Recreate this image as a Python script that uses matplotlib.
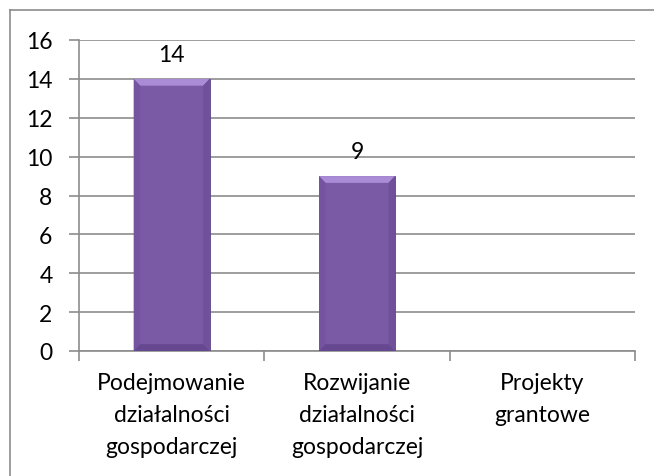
import matplotlib as mpl
mpl.use('Agg')
import matplotlib.pyplot as plt
from matplotlib.patches import Polygon
from matplotlib.lines import Line2D
import numpy as np

# chart data
categories = ['Podejmowanie\ndziałalności\ngospodarczej',
              'Rozwijanie\ndziałalności\ngospodarczej',
              'Projekty\ngrantowe']
values = [14, 9, 0]
yticks = [0, 2, 4, 6, 8, 10, 12, 14, 16]

plt.rcParams['font.family'] = ['Lato', 'DejaVu Sans']
grey = '#8c8c8c'
fs = 16.5

fig = plt.figure(figsize=(6.54, 4.77), dpi=100)
ax = fig.add_axes([79/654, 1-352/477, (635-79)/654, (352-41)/477])

x = np.arange(len(categories))
w = 0.41
bars = ax.bar(x, values, width=w, color='#7A59A5', edgecolor='#5d4286',
              linewidth=0.6, zorder=3)

# bevel effect on every bar
for i, b in enumerate(bars):
    h = b.get_height()
    if h <= 0:
        continue
    x0 = b.get_x()
    x1 = x0 + b.get_width()
    dx, dy = 0.035, 0.35
    top = Polygon([(x0, h), (x1, h), (x1-dx, h-dy), (x0+dx, h-dy)],
                  closed=True, facecolor='#A98BD6', edgecolor='none', zorder=4)
    left = Polygon([(x0, h), (x0+dx, h-dy), (x0+dx, dy), (x0, 0)],
                   closed=True, facecolor='#7553A0', edgecolor='none', zorder=4)
    right = Polygon([(x1, h), (x1-dx, h-dy), (x1-dx, dy), (x1, 0)],
                    closed=True, facecolor='#71509B', edgecolor='none', zorder=4)
    bottom = Polygon([(x0, 0), (x1, 0), (x1-dx, dy), (x0+dx, dy)],
                     closed=True, facecolor='#664890', edgecolor='none', zorder=4)
    for p in (top, left, right, bottom):
        ax.add_patch(p)
    ax.annotate(str(values[i]), (b.get_x()+b.get_width()/2, h),
                xytext=(0, 10), textcoords='offset points', ha='center',
                va='bottom', fontsize=fs, color='black')

ax.set_ylim(0, 16)
ax.set_xlim(-0.5, len(categories)-0.5)
ax.set_yticks(yticks)
ax.set_yticklabels([str(t) for t in yticks], fontsize=fs)
ax.yaxis.grid(True, color=grey, linewidth=1.2, zorder=0)
ax.set_axisbelow(True)

ax.set_xticks(x)
ax.set_xticklabels(categories, fontsize=fs, linespacing=1.65)
ax.tick_params(axis='x', length=0, pad=15)
ax.set_xticks(np.arange(len(categories)+1)-0.5, minor=True)
ax.tick_params(axis='x', which='minor', length=7, color=grey, width=1.2)
ax.tick_params(axis='y', length=7, color=grey, width=1.2, pad=12)

for s in ['top', 'right']:
    ax.spines[s].set_visible(False)
for s in ['left', 'bottom']:
    ax.spines[s].set_color(grey)
    ax.spines[s].set_linewidth(1.2)

# outer chart frame (cropped at right and bottom)
fig.add_artist(Line2D([10/654, 1], [1-11/477, 1-11/477], color=grey, linewidth=1.2))
fig.add_artist(Line2D([10/654, 10/654], [0, 1-11/477], color=grey, linewidth=1.2))

fig.savefig('out.png', dpi=100)
